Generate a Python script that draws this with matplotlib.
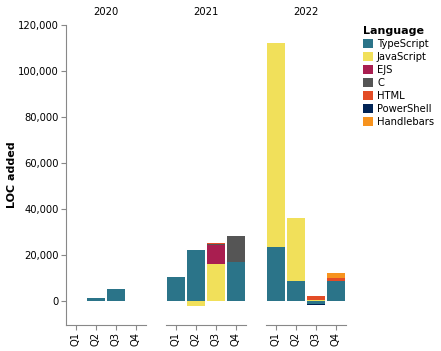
import numpy as np
import matplotlib
matplotlib.use("Agg")
import matplotlib.pyplot as plt
from matplotlib.patches import Patch

years = ["2020", "2021", "2022"]
quarters = ["Q1", "Q2", "Q3", "Q4"]
languages = ["TypeScript", "JavaScript", "EJS", "C", "HTML", "PowerShell", "Handlebars"]
colors = ["#2b7489", "#f1e05a", "#a91e50", "#555555", "#e34c26", "#012456", "#f7931e"]

# LOC added per language, per quarter (rows: languages, cols: Q1..Q4)
loc_2020 = [
    [0, 1300, 5200, 0],
    [0, 0, 0, 0],
    [0, 0, 0, 0],
    [0, 0, 0, 0],
    [0, 0, 0, 0],
    [0, 0, 0, 0],
    [0, 0, 0, 0],
]
loc_2021 = [
    [10400, 22400, 0, 17000],
    [0, -2200, 16100, 0],
    [0, 0, 8300, 0],
    [0, 0, 600, 11300],
    [0, 0, 400, 0],
    [0, 0, 0, 0],
    [0, 0, 0, 0],
]
loc_2022 = [
    [23500, 8600, -1300, 8600],
    [88800, 27300, 400, 0],
    [0, 0, 0, 0],
    [0, 0, 0, 0],
    [0, 0, 2000, 1300],
    [0, 0, -300, 0],
    [0, 0, 0, 2500],
]
data = {"2020": loc_2020, "2021": loc_2021, "2022": loc_2022}

W, H = 441, 351
fig = plt.figure(figsize=(W / 100, H / 100), dpi=100)
axis_col = "#888888"
fs = 7.2  # 10px
x = np.arange(len(quarters))

for k, yr in enumerate(years):
    left = 66 + k * 100
    ax = fig.add_axes([left / W, (H - 325) / H, 80 / W, 300 / H])
    vals = np.array(data[yr], dtype=float)
    pos = np.zeros(len(quarters))
    neg = np.zeros(len(quarters))
    for i, lang in enumerate(languages):
        v = vals[i]
        bottoms = np.where(v >= 0, pos, neg)
        ax.bar(x, v, bottom=bottoms, width=0.9, color=colors[i], linewidth=0)
        pos = pos + np.where(v > 0, v, 0)
        neg = neg + np.where(v < 0, v, 0)
    ax.set_xlim(-0.5, 3.5)
    ax.set_ylim(-10400, 120000)
    ax.set_xticks(x)
    ax.set_xticklabels(quarters, rotation=90, fontsize=fs)
    for s in ["top", "right"]:
        ax.spines[s].set_visible(False)
    ax.spines["bottom"].set_color(axis_col)
    ax.tick_params(axis="x", colors=axis_col, labelcolor="black",
                   length=3.6, width=0.8, pad=1.5)
    if k == 0:
        ax.spines["left"].set_color(axis_col)
        ax.set_yticks(range(0, 120001, 20000))
        ax.set_yticklabels([f"{v:,}" for v in range(0, 120001, 20000)], fontsize=fs)
        ax.tick_params(axis="y", colors=axis_col, labelcolor="black",
                       length=3.6, width=0.8, pad=1.5)
    else:
        ax.spines["left"].set_visible(False)
        ax.set_yticks([])
    ax.set_title(yr, fontsize=fs, pad=7)

fig.text(12 / W, 1 - 175 / H, "LOC added", rotation=90, fontsize=8,
         fontweight="bold", ha="center", va="center")

handles = [Patch(facecolor=c, edgecolor="none") for c in colors]
leg = fig.legend(handles, languages, loc="upper left",
                 bbox_to_anchor=(359 / W, 1 - 22 / H), frameon=False,
                 title="Language", fontsize=fs, title_fontsize=8,
                 handlelength=1.0, handleheight=1.0, handletextpad=0.4,
                 labelspacing=0.3, borderaxespad=0, alignment="left")
leg.get_title().set_fontweight("bold")

fig.savefig("out.png", dpi=100)
